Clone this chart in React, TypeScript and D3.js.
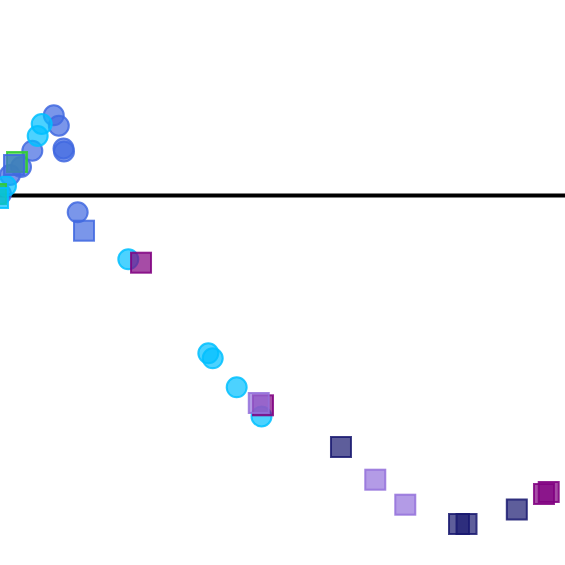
import React from "react";
import * as d3 from "d3";

const W = 565;
const H = 565;

// x, y in data units (y = 0 is the reference line)
const blueCircles: [number, number][] = [
  [0.952, 1.604], [1.041, 1.396], [1.124, 0.94], [1.133, 0.88], [0.572, 0.896],
  [0.372, 0.57], [0.177, 0.41], [0.018, 0.03], [1.375, -0.336],
];
const cyanCircles: [number, number][] = [
  [0.738, 1.43], [0.667, 1.19], [0.106, 0.19], [2.271, -1.276], [3.687, -3.156],
  [3.765, -3.256], [4.189, -3.836], [4.628, -4.42],
];
const greenSquares: [number, number][] = [[0.301, 0.67], [-0.071, 0.03]];
const blueSquares: [number, number][] = [[0.248, 0.61], [1.487, -0.704]];
const cyanSquares: [number, number][] = [[-0.035, -0.05]];
const purpleSquares: [number, number][] = [[2.496, -1.344], [4.655, -4.196], [9.628, -5.97], [9.712, -5.93]];
const lightPurpleSquares: [number, number][] = [[4.58, -4.15], [6.642, -5.684], [7.173, -6.184]];
const navySquares: [number, number][] = [[6.035, -5.03], [8.124, -6.57], [8.257, -6.57], [9.147, -6.28]];

const circleSeries = [
  { data: blueCircles, color: "#4169e1" },
  { data: cyanCircles, color: "#00bfff" },
];
const squareSeries = [
  { data: greenSquares, color: "#32cd32" },
  { data: cyanSquares, color: "#00bfff" },
  { data: blueSquares, color: "#4169e1" },
  { data: purpleSquares, color: "#800080" },
  { data: lightPurpleSquares, color: "#9370db" },
  { data: navySquares, color: "#191970" },
];

const x = d3.scaleLinear().domain([0, 10]).range([0, 565]);
const y = d3.scaleLinear().domain([0, 1]).range([195.5, 145.5]);

const R = 10;
const S = 20;

export default function App() {
  return (
    <svg width={W} height={H} style={{ position: "fixed", top: 0, left: 0, background: "#fff" }}>
      <line x1={0} x2={W} y1={y(0)} y2={y(0)} stroke="#000" strokeWidth={4} />
      {circleSeries.map((s, i) =>
        s.data.map((d, j) => (
          <circle
            key={`c${i}-${j}`}
            cx={x(d[0])}
            cy={y(d[1])}
            r={R}
            fill={s.color}
            fillOpacity={0.7}
            stroke={s.color}
            strokeOpacity={0.85}
            strokeWidth={2}
          />
        ))
      )}
      {squareSeries.map((s, i) =>
        s.data.map((d, j) => (
          <rect
            key={`s${i}-${j}`}
            x={x(d[0]) - S / 2}
            y={y(d[1]) - S / 2}
            width={S}
            height={S}
            fill={s.color}
            fillOpacity={0.7}
            stroke={s.color}
            strokeOpacity={0.85}
            strokeWidth={2}
          />
        ))
      )}
    </svg>
  );
}
